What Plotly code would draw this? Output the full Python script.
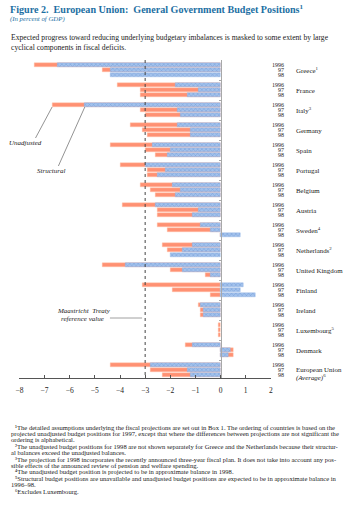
import plotly.graph_objects as go

# ---------------- data ----------------
country_names = ["Greece<sup>1</sup>", "France", "Italy<sup>3</sup>", "Germany", "Spain", "Portugal",
                 "Belgium", "Austria", "Sweden<sup>4</sup>", "Netherlands<sup>2</sup>", "United Kingdom",
                 "Finland", "Ireland", "Luxembourg<sup>5</sup>", "Denmark", "European Union"]
years = ["1996", "97", "98"]

# unadjusted balances (1996, 97, 98)
unadjusted = [
    [-7.4, -4.7, None],   # Greece
    [-4.1, -3.2, -3.2],   # France
    [-6.7, -3.2, -3.0],   # Italy
    [-3.6, -3.1, -2.9],   # Germany
    [-4.4, -3.0, -2.6],   # Spain
    [-4.0, -2.9, -2.9],   # Portugal
    [-3.2, -2.8, -2.6],   # Belgium
    [-3.9, -2.5, -2.5],   # Austria
    [-2.5, -2.1, 0.0],    # Sweden
    [-2.3, -2.1, None],   # Netherlands
    [-4.7, -2.0, -0.6],   # United Kingdom
    [-3.1, -1.9, -0.4],   # Finland
    [-0.9, -0.8, -0.8],   # Ireland
    [-0.08, -0.08, -0.08],  # Luxembourg
    [-1.4, 0.5, 0.5],     # Denmark
    [-4.4, -2.8, -2.3],   # European Union
]
# structural balances (1996, 97, 98)
structural = [
    [-6.5, -4.4, -4.4],
    [-1.8, -0.9, -1.3],
    [-5.4, -1.7, -1.6],
    [-1.7, -1.2, -1.2],
    [-2.7, -2.0, -2.1],
    [-3.0, -2.2, -2.5],
    [-1.9, -1.6, -1.8],
    [-2.6, -0.9, -1.1],
    [-0.8, -0.4, 0.8],
    [-1.1, -1.5, -2.0],
    [-3.8, -1.5, -0.4],
    [0.9, 0.8, 1.4],
    [-0.8, -0.7, -0.7],
    [None, None, None],
    [-1.1, 0.4, 0.3],
    [-2.8, -1.3, -1.2],
]
maastricht = -3.0
x_ticks = [-8, -7, -6, -5, -4, -3, -2, -1, 0, 1, 2]

# ---------------- helpers ----------------
W, H = 350, 518
SERIF = "Liberation Serif, Times New Roman, serif"
TITLE_BLUE = "#1c6fa3"
SALMON = "#ff9173"
BLUE_BG = "#a2c2ec"
BLUE_FG = "#4f7cc6"


def px(x):
    return x / W


def py(y):
    return 1 - y / H


slot_y, slot_u, slot_s = [], [], []
for g in range(len(country_names)):
    for k in range(3):
        slot_y.append(g * 4 + k)
        slot_u.append(unadjusted[g][k])
        slot_s.append(structural[g][k])

fig = go.Figure()
fig.add_trace(go.Bar(
    y=slot_y, x=slot_u, orientation="h", width=0.72,
    marker=dict(color=SALMON, line=dict(color="#ffc3a8", width=0.4)),
    name="Unadjusted", hoverinfo="skip"))
fig.add_trace(go.Bar(
    y=slot_y, x=slot_s, orientation="h", width=0.72,
    marker=dict(color=BLUE_BG, line=dict(color="#8fb4e6", width=0.4),
                pattern=dict(shape="x", fgcolor=BLUE_FG, bgcolor=BLUE_BG, size=3, solidity=0.3)),
    name="Structural", hoverinfo="skip"))

n_slots = len(country_names) * 4
y_bottom = n_slots - 1.4
y_top = -1.0

sep_ticks = [g * 4 - 1 for g in range(1, len(country_names))]

fig.update_layout(
    width=W, height=H, margin=dict(l=0, r=0, t=0, b=0),
    paper_bgcolor="white", plot_bgcolor="white",
    barmode="overlay", showlegend=False, bargap=0,
    font=dict(family=SERIF, color="#222"),
    xaxis=dict(domain=[px(15.7), px(271.5)], range=[-8, 2], tickvals=x_ticks,
               ticks="inside", ticklen=3, tickcolor="#555", tickwidth=1,
               showline=True, linecolor="#555", linewidth=1, showgrid=False, zeroline=False,
               tickfont=dict(family=SERIF, size=7.5, color="#222"), anchor="y",
               ticklabelstandoff=5),
    yaxis=dict(domain=[py(378), py(60)], range=[y_bottom, y_top], showticklabels=False,
               showgrid=False, zeroline=False, anchor="free", position=px(220.3),
               showline=True, linecolor="#a8a8a8", linewidth=1,
               ticks="outside", ticklen=2, tickcolor="#a8a8a8", tickvals=sep_ticks),
)

# Maastricht reference dotted line
fig.add_shape(type="line", xref="x", yref="y", x0=maastricht, x1=maastricht, y0=y_top, y1=y_bottom,
              line=dict(color="#444", width=1, dash="dot"))

# year and country labels
ann = []
for g, name in enumerate(country_names):
    for k, yr in enumerate(years):
        ann.append(dict(x=px(287), xref="paper", y=g * 4 + k, yref="y", text=yr,
                        xanchor="right", yanchor="middle", showarrow=False,
                        font=dict(family=SERIF, size=6, color="#222")))
    if g < len(country_names) - 1:
        ann.append(dict(x=px(295), xref="paper", y=g * 4 + 1, yref="y", text=name,
                        xanchor="left", yanchor="middle", showarrow=False,
                        font=dict(family=SERIF, size=6.9, color="#222")))
    else:
        ann.append(dict(x=px(295), xref="paper", y=g * 4 + 0.8, yref="y", text=name,
                        xanchor="left", yanchor="middle", showarrow=False,
                        font=dict(family=SERIF, size=6.9, color="#222")))
        ann.append(dict(x=px(295), xref="paper", y=g * 4 + 2.4, yref="y",
                        text="<i>(Average)</i><sup>6</sup>",
                        xanchor="left", yanchor="middle", showarrow=False,
                        font=dict(family=SERIF, size=6.9, color="#222")))

# Unadjusted / Structural leader lines (to Italy 1996)
it = 2
ybar = it * 4 + 0.4
fig.add_shape(type="line", xref="x", yref="y", x0=-7.36, y0=14.6, x1=unadjusted[it][0], y1=ybar,
              line=dict(color="#777", width=0.8))
fig.add_shape(type="line", xref="x", yref="y", x0=-6.45, y0=20.2, x1=structural[it][0], y1=ybar,
              line=dict(color="#777", width=0.8))
ann.append(dict(x=px(22), y=py(143), xref="paper", yref="paper", text="<i>Unadjusted</i>",
                showarrow=False, xanchor="center", yanchor="middle",
                font=dict(family=SERIF, size=7, color="#222")))
ann.append(dict(x=px(48), y=py(171), xref="paper", yref="paper", text="<i>Structural</i>",
                showarrow=False, xanchor="center", yanchor="middle",
                font=dict(family=SERIF, size=7, color="#222")))

# Maastricht annotation
fig.add_shape(type="line", xref="x", yref="y", x0=maastricht - 1.4, x1=maastricht - 0.12,
              y0=50.6, y1=50.6, line=dict(color="#888", width=0.8))
ann.append(dict(x=px(81), y=py(311), xref="paper", yref="paper",
                text="<i>Maastricht\u00a0 Treaty</i>", showarrow=False, xanchor="center", yanchor="middle",
                font=dict(family=SERIF, size=7, color="#222")))
ann.append(dict(x=px(80), y=py(319), xref="paper", yref="paper",
                text="<i>reference value</i>", showarrow=False, xanchor="center", yanchor="middle",
                font=dict(family=SERIF, size=7, color="#222")))

# Titles
ann.append(dict(x=px(4), y=py(9), xref="paper", yref="paper",
                text="<b>Figure 2.\u00a0 European Union:\u00a0 General Government Budget Positions<sup>1</sup></b>",
                showarrow=False, xanchor="left", yanchor="middle",
                font=dict(family=SERIF, size=10.1, color=TITLE_BLUE)))
ann.append(dict(x=px(4), y=py(19.5), xref="paper", yref="paper",
                text="<i>(In percent of GDP)</i>", showarrow=False, xanchor="left", yanchor="middle",
                font=dict(family=SERIF, size=6.8, color=TITLE_BLUE)))
body = ["Expected progress toward reducing underlying budgetary imbalances is masked to some extent by large",
        "cyclical components in fiscal deficits."]
for i, line in enumerate(body):
    ann.append(dict(x=px(5), y=py(38 + 9 * i), xref="paper", yref="paper", text=line,
                    showarrow=False, xanchor="left", yanchor="middle",
                    font=dict(family=SERIF, size=7.65, color="#222")))

foot = [
    (True, "\u00b9The detailed assumptions underlying the fiscal projections are set out in Box 1. The ordering of countries is based on the"),
    (False, "projected unadjusted budget positions for 1997, except that where the differences between projections are not significant the"),
    (False, "ordering is alphabetical."),
    (True, "\u00b2The unadjusted budget positions for 1998 are not shown separately for Greece and the Netherlands because their structur-"),
    (False, "al balances exceed the unadjusted balances."),
    (True, "\u00b3The projection for 1998 incorporates the recently announced three-year fiscal plan. It does not take into account any pos-"),
    (False, "sible effects of the announced review of pension and welfare spending."),
    (True, "\u2074The unadjusted budget position is projected to be in approximate balance in 1998."),
    (True, "\u2075Structural budget positions are unavailable and unadjusted budget positions are expected to be in approximate balance in"),
    (False, "1996\u201398."),
    (True, "\u2076Excludes Luxembourg."),
]
for i, (ind, line) in enumerate(foot):
    ann.append(dict(x=px(9 if ind else 5), y=py(427 + 6.4 * i), xref="paper", yref="paper", text=line,
                    showarrow=False, xanchor="left", yanchor="middle",
                    font=dict(family=SERIF, size=6.6, color="#222")))

fig.update_layout(annotations=ann)
fig.write_html("out.html")
